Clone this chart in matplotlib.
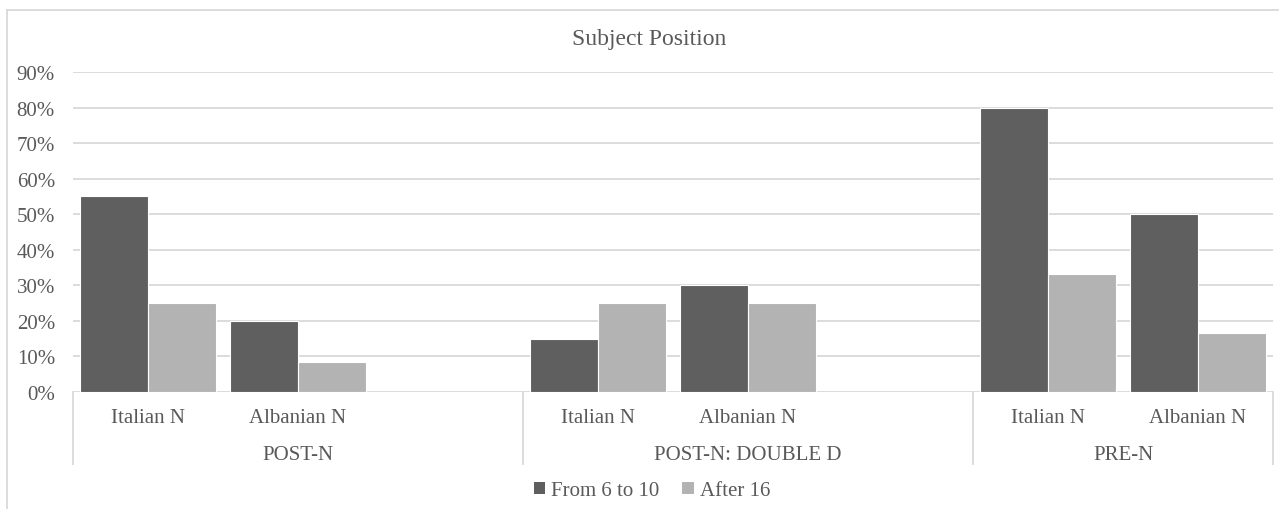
import numpy as np
import matplotlib.pyplot as plt
from matplotlib.lines import Line2D
from matplotlib.patches import Patch
from matplotlib.ticker import PercentFormatter

plt.rcParams["font.family"] = ["Liberation Serif", "DejaVu Serif"]

TEXT = "#595959"
GRID = "#d9d9d9"
COLORS = ["#5f5f5f", "#b3b3b3"]

# Kategorien (leere Einträge halten den Platz wie in der Excel-Vorlage)
groups = ["POST-N", "POST-N: DOUBLE D", "PRE-N"]
group_sizes = [3, 3, 2]
subcats = ["Italian N", "Albanian N", "", "Italian N", "Albanian N", "", "Italian N", "Albanian N"]
series = ["From 6 to 10", "After 16"]
from_6_to_10 = [0.55, 0.20, np.nan, 0.15, 0.30, np.nan, 0.80, 0.50]
after_16 = [0.25, 0.0833, np.nan, 0.25, 0.25, np.nan, 0.333, 0.1667]

fig = plt.figure(figsize=(12.79, 5.10), dpi=100)
W, H = 1279, 510
ax = fig.add_axes([73 / W, 1 - 393 / H, 1200 / W, 320 / H])

x = np.arange(len(subcats)) + 0.5
bw = 0.455
ax.bar(x - bw / 2, from_6_to_10, bw, color=COLORS[0], edgecolor="white", linewidth=0.8, zorder=3)
ax.bar(x + bw / 2, after_16, bw, color=COLORS[1], edgecolor="white", linewidth=0.8, zorder=3)

ax.set_xlim(0, len(subcats))
ax.set_ylim(0, 0.9)
ax.set_yticks(np.arange(0, 0.91, 0.1))
ax.yaxis.set_major_formatter(PercentFormatter(1.0, decimals=0))
ax.tick_params(axis="y", length=0, pad=13, labelsize=15, labelcolor=TEXT)
ax.tick_params(axis="x", length=0, labelbottom=False)
ax.grid(axis="y", color=GRID, linewidth=1.3, zorder=0)
for s in ax.spines.values():
    s.set_visible(False)

# zweistufige Achsenbeschriftung
trans = ax.get_xaxis_transform()
for xi, lab in zip(x, subcats):
    ax.text(xi, -0.081, lab, transform=trans, ha="center", va="center",
            fontsize=15, color=TEXT)
start = 0
bounds = [0]
for g, n in zip(groups, group_sizes):
    mid = start + n / 2 if n == 2 else start + 1.5
    ax.text(mid, -0.194, g, transform=trans, ha="center", va="center",
            fontsize=15, color=TEXT)
    start += n
    bounds.append(start)
for b in bounds:
    ax.plot([b, b], [0, -0.225], transform=trans, color=GRID, linewidth=1.3, clip_on=False)

fig.text(649 / W, 1 - 40 / H, "Subject Position", ha="center", va="center",
         fontsize=17, color=TEXT)

handles = [Patch(facecolor=c, edgecolor="none") for c in COLORS]
fig.legend(handles, series, loc="center", bbox_to_anchor=(652 / W, 1 - 492 / H), ncol=2,
           frameon=False, fontsize=15, labelcolor=TEXT, handlelength=0.55, handleheight=0.55,
           handletextpad=0.3, columnspacing=1.1)

# Rahmen nur oben und links
fig.add_artist(Line2D([7 / W, 1], [1 - 11 / H, 1 - 11 / H], transform=fig.transFigure,
                      color=GRID, linewidth=1.3))
fig.add_artist(Line2D([7 / W, 7 / W], [0, 1 - 11 / H], transform=fig.transFigure,
                      color=GRID, linewidth=1.3))

fig.savefig("out.png", dpi=100)
